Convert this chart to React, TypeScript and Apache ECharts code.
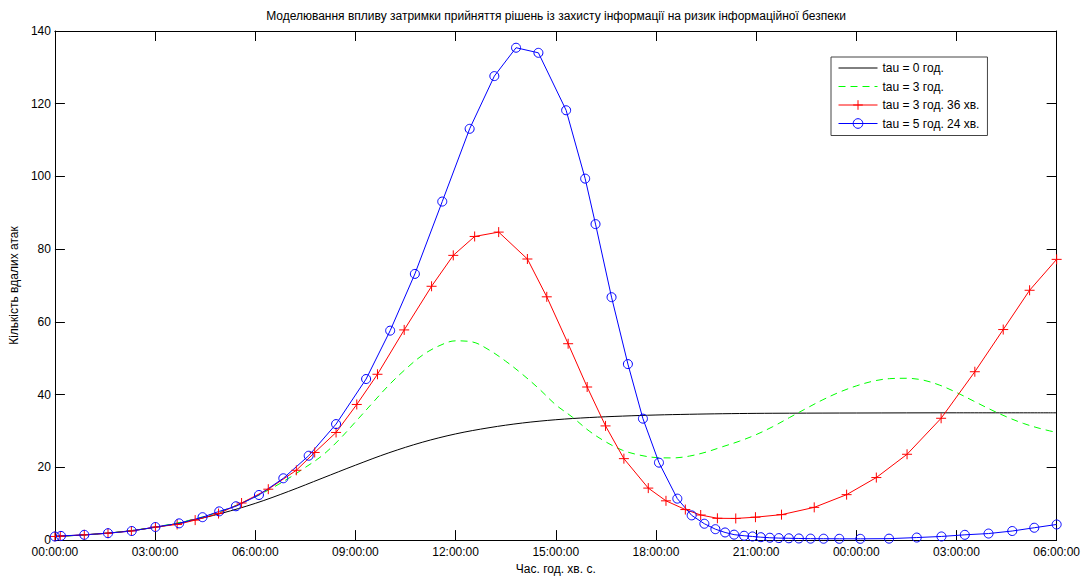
import React, { useEffect, useRef } from "react";
import * as echarts from "echarts";

const titleText =
  "Моделювання впливу затримки прийняття рішень із захисту інформації на ризик інформаційної безпеки";
const xAxisName = "Час. год. хв. с.";
const yAxisName = "Кількість вдалих атак";
const seriesNames = ["tau = 0 год.", "tau = 3 год.", "tau = 3 год. 36 хв.", "tau = 5 год. 24 хв."];

const xTickLabels = [
  "00:00:00", "03:00:00", "06:00:00", "09:00:00", "12:00:00", "15:00:00",
  "18:00:00", "21:00:00", "00:00:00", "03:00:00", "06:00:00",
];

// tau = 0 (hours, value)
const tau0Hours = [0, 1, 2, 3, 4, 5, 6, 7, 8, 9, 10, 11, 12, 13, 14, 15, 16, 17, 18, 19, 20, 21, 22, 24, 27, 30];
const tau0Values = [1.0, 1.5, 2.3, 3.5, 5.2, 7.4, 10.1, 13.4, 17.0, 20.6, 24.0, 26.9, 29.2, 30.9, 32.2, 33.1, 33.7, 34.1, 34.4, 34.6, 34.75, 34.85, 34.9, 34.95, 35.0, 35.0];

// tau = 3 h
const tau3Hours = [
  0, 1, 2, 3, 4, 5, 6, 6.5, 7, 7.5, 8, 8.5, 9, 9.5, 10, 10.5, 11, 11.5, 12, 12.5, 13, 13.5, 14, 14.5, 15,
  15.5, 16, 16.5, 17, 17.5, 18, 18.5, 19, 19.5, 20, 20.5, 21, 21.5, 22, 22.5, 23, 23.5, 24, 24.5, 25, 25.5,
  26, 26.5, 27, 27.5, 28, 28.5, 29, 29.5, 30,
];
const tau3Values = [
  1.0, 1.5, 2.3, 3.6, 5.4, 8.0, 11.9, 14.3, 17.0, 20.0, 23.2, 27.5, 32.5, 37.6, 42.6, 47.0, 50.8, 53.4, 54.8,
  54.5, 52.3, 49.2, 45.6, 41.6, 37.2, 33.8, 30.0, 27.0, 24.7, 23.4, 22.7, 22.6, 23.1, 24.2, 25.7, 27.2, 29.0,
  31.2, 33.7, 36.2, 38.6, 40.7, 42.4, 43.7, 44.4, 44.5, 44.0, 42.6, 40.6, 38.3, 36.0, 33.9, 32.1, 30.7, 29.6,
];

// tau = 3 h 36 min (solver points)
const tau336Hours = [
  0, 0.16, 0.88, 1.59, 2.29, 3.01, 3.66, 4.2, 4.9, 5.59, 6.39, 7.23, 7.78, 8.42, 9.04, 9.66, 10.46, 11.28,
  11.93, 12.57, 13.29, 14.15, 14.73, 15.37, 15.94, 16.49, 17.04, 17.77, 18.3, 18.88, 19.34, 19.84, 20.39,
  20.98, 21.76, 22.74, 23.71, 24.6, 25.52, 26.54, 27.55, 28.4, 29.19, 30.0,
];
const tau336Values = [
  1.0, 1.1, 1.45, 1.9, 2.5, 3.6, 4.3, 5.5, 7.3, 10.2, 14.0, 19.2, 24.1, 29.6, 37.3, 45.6, 57.8, 69.8, 78.3,
  83.5, 84.7, 77.3, 66.9, 54.0, 42.1, 31.4, 22.4, 14.3, 10.8, 8.4, 6.9, 6.0, 5.95, 6.3, 7.0, 9.0, 12.5, 17.2,
  23.6, 33.5, 46.3, 57.9, 68.7, 77.2,
];

// tau = 5 h 24 min (solver points)
const tau524Hours = [
  0, 0.18, 0.88, 1.59, 2.3, 3.01, 3.72, 4.42, 4.92, 5.42, 6.11, 6.84, 7.6, 8.42, 9.32, 10.04, 10.78, 11.6,
  12.42, 13.16, 13.81, 14.48, 15.31, 15.88, 16.19, 16.67, 17.16, 17.61, 18.09, 18.64, 19.07, 19.45, 19.78,
  20.07, 20.34, 20.64, 20.89, 21.14, 21.41, 21.68, 21.98, 22.28, 22.63, 23.02, 23.49, 24.12, 24.98, 25.81,
  26.55, 27.25, 27.96, 28.67, 29.33, 30.0,
];
const tau524Values = [
  1.0, 1.15, 1.45, 1.9, 2.5, 3.6, 4.6, 6.3, 7.9, 9.3, 12.4, 17.0, 23.2, 31.9, 44.3, 57.6, 73.2, 93.1, 113.1,
  127.6, 135.4, 134.0, 118.2, 99.4, 86.9, 66.8, 48.4, 33.4, 21.3, 11.4, 6.8, 4.5, 3.0, 2.1, 1.5, 1.2, 1.0,
  0.8, 0.65, 0.55, 0.5, 0.45, 0.4, 0.38, 0.36, 0.35, 0.4, 0.7, 1.0, 1.45, 1.8, 2.5, 3.4, 4.3,
];

const zip = (xs: number[], ys: number[]) => xs.map((x, i) => [x, ys[i]]);

const FONT = "'Liberation Sans', Arial, Helvetica, sans-serif";
const CLEAR = "rgba(0,0,0,0)";
const PLUS = "path://M5,0L5,10M0,5L10,5";

export default function App() {
  const ref = useRef<HTMLDivElement>(null);

  useEffect(() => {
    if (!ref.current) return;
    const chart = echarts.init(ref.current, undefined, { renderer: "svg" });

    const axisCommon = {
      type: "value" as const,
      splitLine: { show: false },
      axisLine: { show: true, onZero: false, lineStyle: { color: "#000", width: 1 } },
      axisTick: { show: true, inside: true, length: 10, lineStyle: { color: "#000", width: 1 } },
    };

    chart.setOption({
      animation: false,
      backgroundColor: "#fff",
      title: {
        text: titleText,
        left: 551,
        top: 5,
        textAlign: "center",
        textStyle: { fontSize: 12, fontWeight: "normal", color: "#000", fontFamily: FONT },
      },
      legend: {
        orient: "vertical",
        left: 831,
        top: 57,
        itemWidth: 39,
        itemHeight: 12,
        itemGap: 6.5,
        padding: [5, 8, 6, 7],
        borderColor: "#444",
        borderWidth: 1,
        backgroundColor: "#fff",
        selectedMode: false,
        textStyle: { fontSize: 12, color: "#000", fontFamily: FONT },
        lineStyle: { width: 1 },
        data: [
          { name: seriesNames[0], itemStyle: { color: CLEAR, borderWidth: 0 } },
          { name: seriesNames[1], itemStyle: { color: CLEAR, borderWidth: 0 } },
          { name: seriesNames[2], itemStyle: { color: CLEAR, borderColor: "#ff0000", borderWidth: 1 } },
          { name: seriesNames[3], itemStyle: { color: CLEAR, borderColor: "#0000ff", borderWidth: 1 } },
        ],
      },
      grid: { left: 52, right: 24, top: 31, bottom: 32, containLabel: false },
      xAxis: [
        {
          ...axisCommon,
          position: "bottom",
          min: 0,
          max: 30,
          interval: 3,
          name: xAxisName,
          nameLocation: "middle",
          nameGap: 20,
          nameTextStyle: { fontSize: 12, color: "#000", fontFamily: FONT },
          axisLabel: {
            margin: 6,
            fontSize: 12,
            lineHeight: 12,
            color: "#000",
            fontFamily: FONT,
            formatter: (v: number) => xTickLabels[Math.round(v / 3)] ?? "",
          },
        },
        {
          ...axisCommon,
          position: "top",
          min: 0,
          max: 30,
          interval: 3,
          axisLabel: { show: false },
        },
      ],
      yAxis: [
        {
          ...axisCommon,
          position: "left",
          min: 0,
          max: 140,
          interval: 20,
          name: yAxisName,
          nameLocation: "middle",
          nameGap: 31,
          nameRotate: 90,
          nameTextStyle: { fontSize: 12, color: "#000", fontFamily: FONT },
          axisLabel: { margin: 4, fontSize: 12, lineHeight: 10, color: "#000", fontFamily: FONT },
        },
        {
          ...axisCommon,
          position: "right",
          min: 0,
          max: 140,
          interval: 20,
          axisLabel: { show: false },
        },
      ],
      series: [
        {
          name: seriesNames[0],
          type: "line",
          data: zip(tau0Hours, tau0Values),
          smooth: 0.35,
          symbol: "circle",
          showSymbol: false,
          itemStyle: { color: CLEAR },
          lineStyle: { color: "#000000", width: 1 },
          silent: true,
        },
        {
          name: seriesNames[1],
          type: "line",
          data: zip(tau3Hours, tau3Values),
          smooth: 0.35,
          symbol: "circle",
          showSymbol: false,
          itemStyle: { color: CLEAR },
          lineStyle: { color: "#00ff00", width: 1, type: [7, 5] },
          silent: true,
        },
        {
          name: seriesNames[2],
          type: "line",
          data: zip(tau336Hours, tau336Values),
          symbol: PLUS,
          symbolSize: 10,
          showAllSymbol: true,
          itemStyle: { color: CLEAR, borderColor: "#ff0000", borderWidth: 1 },
          lineStyle: { color: "#ff0000", width: 1 },
          silent: true,
        },
        {
          name: seriesNames[3],
          type: "line",
          data: zip(tau524Hours, tau524Values),
          symbol: "circle",
          symbolSize: 9,
          showAllSymbol: true,
          itemStyle: { color: CLEAR, borderColor: "#0000ff", borderWidth: 1 },
          lineStyle: { color: "#0000ff", width: 1 },
          silent: true,
        },
      ],
    });

    return () => chart.dispose();
  }, []);

  return (
    <div
      ref={ref}
      style={{ position: "absolute", left: 0, top: 0, width: 1083, height: 580, background: "#fff" }}
    />
  );
}
